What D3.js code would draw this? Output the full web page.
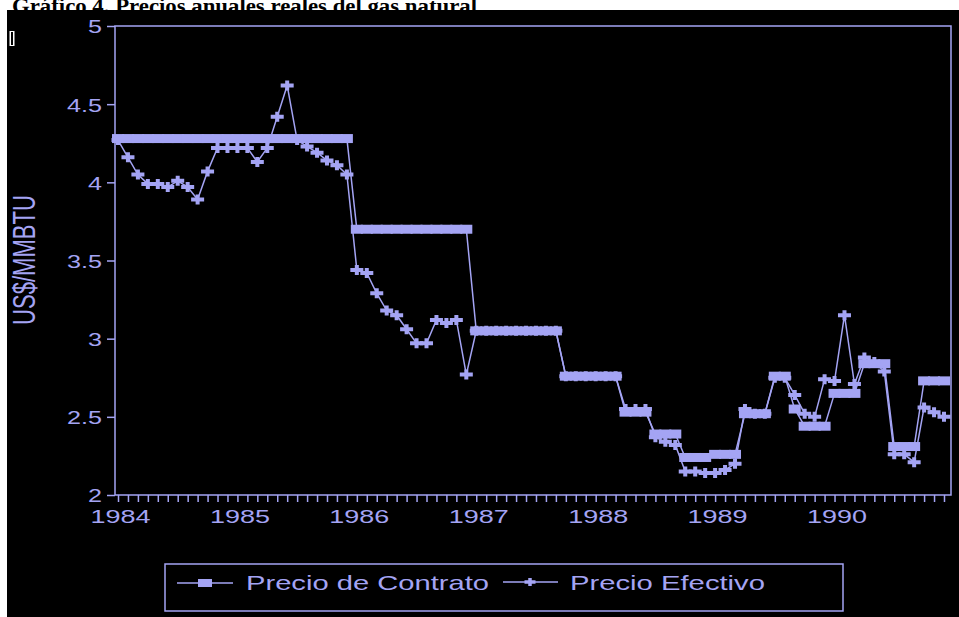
<!DOCTYPE html>
<html><head><meta charset="utf-8">
<script src="https://cdn.jsdelivr.net/npm/d3@7"></script>
<style>html,body{margin:0;padding:0;background:#fff;}svg{display:block;}</style>
</head><body>
<script>
// ---- data ----
const years = ["1984","1985","1986","1987","1988","1989","1990"];
const yTickValues = [2, 2.5, 3, 3.5, 4, 4.5, 5];
const yTickLabels = ["2","2.5","3","3.5","4","4.5","5"];
const seriesNames = ["Precio de Contrato","Precio Efectivo"];
// monthly values Jan 1984 .. Dec 1990 (84 months)
const contrato = [
  4.28,4.28,4.28,4.28,4.28,4.28,4.28,4.28,4.28,4.28,4.28,4.28,
  4.28,4.28,4.28,4.28,4.28,4.28,4.28,4.28,4.28,4.28,4.28,4.28,
  3.70,3.70,3.70,3.70,3.70,3.70,3.70,3.70,3.70,3.70,3.70,3.70,
  3.05,3.05,3.05,3.05,3.05,3.05,3.05,3.05,3.05,2.76,2.76,2.76,
  2.76,2.76,2.76,2.53,2.53,2.53,2.39,2.39,2.39,2.24,2.24,2.24,
  2.26,2.26,2.26,2.52,2.52,2.52,2.76,2.76,2.55,2.44,2.44,2.44,
  2.65,2.65,2.65,2.84,2.84,2.84,2.31,2.31,2.31,2.73,2.73,2.73
];
const efectivo = [
  4.27,4.16,4.05,3.99,3.99,3.97,4.01,3.97,3.89,4.07,4.22,4.22,
  4.22,4.22,4.13,4.22,4.42,4.62,4.27,4.23,4.19,4.14,4.11,4.05,
  3.44,3.42,3.29,3.18,3.15,3.06,2.97,2.97,3.12,3.10,3.12,2.77,
  3.05,3.05,3.05,3.05,3.05,3.05,3.05,3.05,3.05,2.76,2.76,2.76,
  2.76,2.76,2.76,2.55,2.55,2.55,2.37,2.34,2.32,2.15,2.15,2.14,
  2.14,2.16,2.20,2.55,2.52,2.52,2.75,2.75,2.64,2.52,2.50,2.74,
  2.73,3.15,2.71,2.88,2.85,2.79,2.26,2.26,2.21,2.56,2.53,2.50
];

const C = "#a4a4f4";
const W = 959, H = 617;
const FONT = "'Liberation Sans', Arial, Helvetica, sans-serif";

const svg = d3.select("body").append("svg").attr("width", W).attr("height", H);
svg.append("rect").attr("width", W).attr("height", H).attr("fill", "#fff");

// title (partly hidden behind the chart image)
svg.append("text").attr("x", 12).attr("y", 12.5)
  .attr("font-family", "'Liberation Serif', 'Times New Roman', serif")
  .attr("font-weight", "bold").attr("font-size", 20).attr("fill", "#000")
  .attr("textLength", 465).attr("lengthAdjust", "spacingAndGlyphs")
  .text("Gráfico 4. Precios anuales reales del gas natural");

// black chart image
svg.append("rect").attr("x", 7).attr("y", 10).attr("width", W - 7).attr("height", H - 10).attr("fill", "#000");
// small leftover glyph at left
svg.append("rect").attr("x", 9.5).attr("y", 31).attr("width", 5).attr("height", 15).attr("fill", "#fff");
svg.append("rect").attr("x", 11).attr("y", 32).attr("width", 2).attr("height", 13).attr("fill", "#000");

// scales
const x = d3.scaleLinear().domain([0, 83]).range([118, 944]);
const y = d3.scaleLinear().domain([2, 5]).range([495, 26]);

// frame
svg.append("rect").attr("x", 115).attr("y", 26).attr("width", 951 - 115).attr("height", 495 - 26)
  .attr("fill", "none").attr("stroke", C).attr("stroke-width", 1.5);

// y axis
const gY = svg.append("g").attr("transform", "translate(115,0)")
  .call(d3.axisLeft(y).tickValues(yTickValues).tickSize(8).tickPadding(5)
    .tickFormat((d, i) => yTickLabels[i]));
gY.select(".domain").remove();
gY.selectAll(".tick line").attr("stroke", C).attr("stroke-width", 1.5);
gY.selectAll(".tick text").attr("fill", C).attr("font-family", FONT).attr("font-size", 19)
  .attr("dy", "0.36em")
  .attr("textLength", (d, i) => yTickLabels[i].length === 1 ? 14 : 35)
  .attr("lengthAdjust", "spacingAndGlyphs");

// x axis (monthly ticks, yearly labels)
const months = d3.range(84);
const gX = svg.append("g").attr("transform", "translate(0,495)")
  .call(d3.axisBottom(x).tickValues(months).tickSize(7)
    .tickFormat(d => d % 12 === 0 ? years[d / 12] : ""));
gX.select(".domain").remove();
gX.selectAll(".tick line").attr("stroke", C).attr("stroke-width", 1.5);
gX.selectAll(".tick text").attr("fill", C).attr("font-family", FONT).attr("font-size", 19)
  .attr("x", 2).attr("y", 28).attr("dy", "0")
  .attr("textLength", d => d % 12 === 0 ? 60 : null)
  .attr("lengthAdjust", "spacingAndGlyphs");

// y axis title
svg.append("text")
  .attr("transform", "translate(35,260) scale(1.45,1) rotate(-90)")
  .attr("text-anchor", "middle").attr("font-family", FONT).attr("font-size", 22)
  .attr("fill", C).attr("textLength", 130).attr("lengthAdjust", "spacingAndGlyphs")
  .text("US$/MMBTU");

// series
const line = d3.line().x((d, i) => x(i)).y(d => y(d));
const crossPath = (w, h, t) => `M${-w/2},${-t/2}h${w}v${t}h${-w}z M${-t/2},${-h/2}h${t}v${h}h${-t}z`;

const plot = svg.append("g");
plot.append("path").datum(contrato).attr("d", line).attr("fill", "none")
  .attr("stroke", C).attr("stroke-width", 1.5);
plot.selectAll("rect.c").data(contrato).join("rect").attr("class", "c")
  .attr("x", (d, i) => x(i) - 6).attr("y", d => y(d) - 4.5)
  .attr("width", 12).attr("height", 9).attr("fill", C);

plot.append("path").datum(efectivo).attr("d", line).attr("fill", "none")
  .attr("stroke", C).attr("stroke-width", 1.5);
plot.selectAll("path.e").data(efectivo).join("path").attr("class", "e")
  .attr("transform", (d, i) => `translate(${x(i)},${y(d)})`)
  .attr("d", crossPath(13, 10, 4)).attr("fill", C);

// legend
const lg = svg.append("g");
lg.append("rect").attr("x", 165).attr("y", 564).attr("width", 678).attr("height", 47)
  .attr("fill", "none").attr("stroke", C).attr("stroke-width", 1.5);
lg.append("line").attr("x1", 177).attr("x2", 233).attr("y1", 583).attr("y2", 583)
  .attr("stroke", C).attr("stroke-width", 1.5);
lg.append("rect").attr("x", 198).attr("y", 579).attr("width", 14).attr("height", 8).attr("fill", C);
lg.append("text").attr("x", 246).attr("y", 590).attr("font-family", FONT).attr("font-size", 21)
  .attr("fill", C).attr("textLength", 243).attr("lengthAdjust", "spacingAndGlyphs").text(seriesNames[0]);
lg.append("line").attr("x1", 503).attr("x2", 558).attr("y1", 582).attr("y2", 582)
  .attr("stroke", C).attr("stroke-width", 1.5);
lg.append("path").attr("transform", "translate(530,582)").attr("d", crossPath(11, 8, 3.5)).attr("fill", C);
lg.append("text").attr("x", 570).attr("y", 590).attr("font-family", FONT).attr("font-size", 21)
  .attr("fill", C).attr("textLength", 195).attr("lengthAdjust", "spacingAndGlyphs").text(seriesNames[1]);
</script>
</body></html>
